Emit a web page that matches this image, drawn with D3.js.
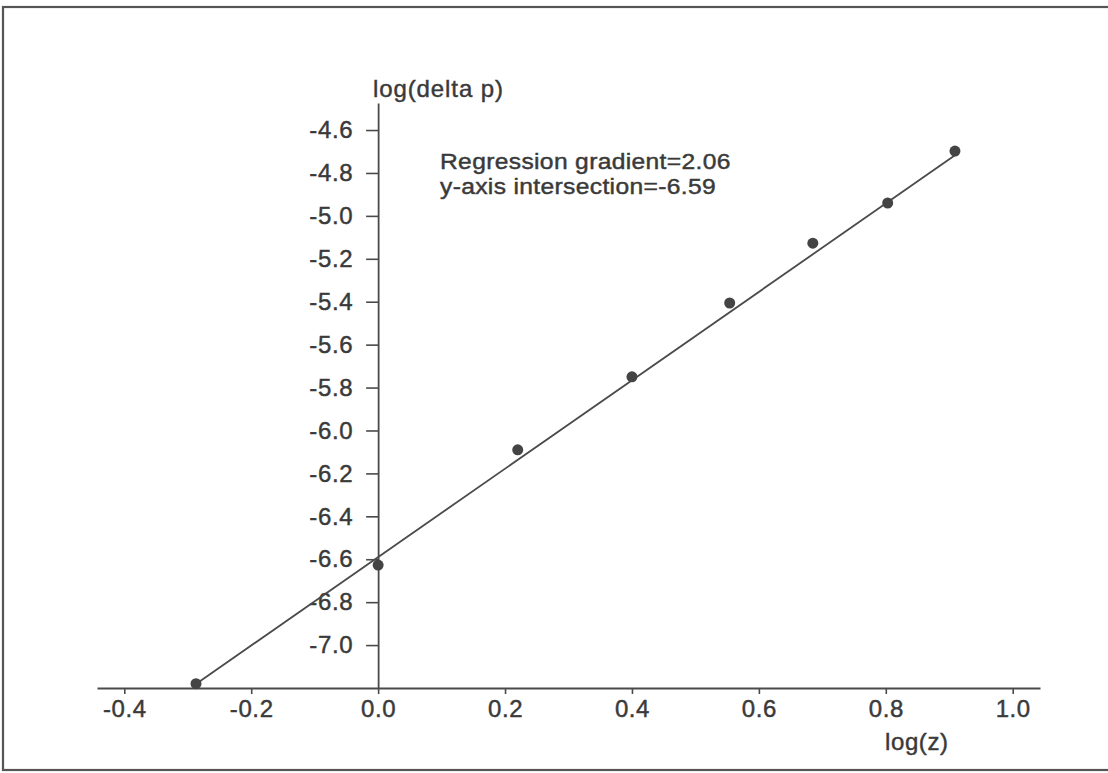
<!DOCTYPE html>
<html>
<head>
<meta charset="utf-8">
<script src="https://cdn.jsdelivr.net/npm/d3@7"></script>
<style>
  html, body { margin: 0; padding: 0; background: #fff; }
  svg { display: block; }
  text { font-family: "Liberation Sans", Arial, Helvetica, sans-serif; fill: #3a3a3a; stroke: #3a3a3a; stroke-width: 0.45px; letter-spacing: 0.6px; }
</style>
</head>
<body>
<svg id="chart" width="1108" height="773"></svg>
<script>
// ---- data ----
const logZ = [-0.287, 0.0, 0.22, 0.40, 0.554, 0.685, 0.803, 0.909];
const logDeltaP = [-7.18, -6.627, -6.09, -5.75, -5.406, -5.127, -4.94, -4.698];
const xTickValues = [-0.4, -0.2, 0.0, 0.2, 0.4, 0.6, 0.8, 1.0];
const yTickValues = [-4.6, -4.8, -5.0, -5.2, -5.4, -5.6, -5.8, -6.0, -6.2, -6.4, -6.6, -6.8, -7.0];
const xDomain = [-0.443, 1.043];
const yDomain = [-7.2, -4.474];
const regressionGradient = 2.06;
const regressionIntercept = -6.59;
const annotationLines = ["Regression gradient=2.06", "y-axis intersection=-6.59"];
const xLabel = "log(z)";
const yLabel = "log(delta p)";

// ---- drawing ----
const svg = d3.select("#chart");
const ink = "#4a4a4a";

// frame
svg.append("rect")
  .attr("x", 3).attr("y", 7).attr("width", 1120).attr("height", 763)
  .attr("fill", "none").attr("stroke", "#555").attr("stroke-width", 2.2);

const x = d3.scaleLinear().domain(xDomain).range([97, 1040]);
const y = d3.scaleLinear().domain(yDomain).range([688, 103]);

const fmt = d3.format(".1f");
const minusFmt = v => fmt(v).replace("\u2212", "-");

// x axis
const gx = svg.append("g")
  .attr("transform", `translate(0,${y(yDomain[0])})`)
  .call(d3.axisBottom(x).tickValues(xTickValues).tickFormat(minusFmt)
    .tickSize(6).tickSizeOuter(0).tickPadding(6));
gx.selectAll("text").attr("font-size", 24).style("font-family", "'Liberation Sans', Arial, sans-serif");

// y axis
const gy = svg.append("g")
  .attr("transform", `translate(${x(0)},0)`)
  .call(d3.axisLeft(y).tickValues(yTickValues).tickFormat(minusFmt)
    .tickSize(12).tickSizeOuter(0).tickPadding(13));
gy.selectAll("text").attr("font-size", 24).style("font-family", "'Liberation Sans', Arial, sans-serif");

svg.selectAll(".tick text").attr("fill", "#3a3a3a");
svg.selectAll(".domain").attr("stroke", ink).attr("stroke-width", 1.8);
svg.selectAll(".tick line").attr("stroke", ink).attr("stroke-width", 1.6);

// regression line
const xExt = d3.extent(logZ);
const regPts = xExt.map(v => [v, regressionGradient * v + regressionIntercept]);
svg.append("path")
  .datum(regPts)
  .attr("d", d3.line().x(d => x(d[0])).y(d => y(d[1])))
  .attr("fill", "none").attr("stroke", ink).attr("stroke-width", 1.8);

// points
svg.append("g").selectAll("circle")
  .data(logZ.map((v, i) => [v, logDeltaP[i]]))
  .join("circle")
  .attr("cx", d => x(d[0])).attr("cy", d => y(d[1]))
  .attr("r", 5.5).attr("fill", "#444");

// annotation (two tight lines, glyphs slightly widened like the original)
svg.append("g").selectAll("text")
  .data(annotationLines)
  .join("text")
  .attr("transform", (d, i) => `translate(440,${169 + i * 25}) scale(1.12,1)`)
  .attr("font-size", 22)
  .style("letter-spacing", "0.3px")
  .text(d => d);

// axis labels
svg.append("text").attr("x", 373).attr("y", 97).attr("font-size", 24).style("letter-spacing", "0.9px").text(yLabel);
svg.append("text").attr("x", 885).attr("y", 750).attr("font-size", 24).text(xLabel);
</script>
</body>
</html>
